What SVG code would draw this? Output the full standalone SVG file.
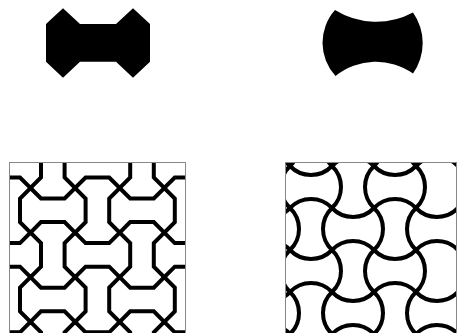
<svg xmlns="http://www.w3.org/2000/svg" xmlns:xlink="http://www.w3.org/1999/xlink" width="457" height="333" viewBox="0 0 457 333">
  <style>
    .tile { fill: #000; stroke: none; }
    .line { fill: none; stroke: #000; stroke-width: 4; stroke-linejoin: miter; }
    .frame { fill: none; stroke: #888; stroke-width: 1; }
  </style>
  <defs>
    <path id="boneH" d="M0,0 L10.5,10.5 L34.1,10.5 L44.6,0 L55.1,10.5 L55.1,34.1 L44.6,44.6 L34.1,34.1 L10.5,34.1 L0,44.6 L-10.5,34.1 L-10.5,10.5 Z"/>
    <path id="curveH" d="M0,0 A29 29 0 0 0 42,0 A29 29 0 0 1 42,42 A29 29 0 0 0 0,42 A29 29 0 0 1 0,0 Z"/>
    <clipPath id="clipL"><rect x="9.5" y="162.5" width="176" height="175"/></clipPath>
    <clipPath id="clipR"><rect x="285.5" y="162.5" width="171" height="175"/></clipPath>
  </defs>
  <rect width="457" height="333" fill="#fff"/>

  <g id="bone-tile">
    <polygon class="tile" points="46,24 63,8.3 80,24 116,24 133,8.3 150,24 150,61.7 133,77.7 116,61.7 80,61.7 63,77.7 46,61.7"/>
  </g>

  <g id="curved-tile">
    <path class="tile" d="M335,10 A78 78 0 0 0 413,12.5 A52.8 52.8 0 0 1 413,73.5 A64.3 64.3 0 0 0 335.5,76 A49.1 49.1 0 0 1 335,10 Z"/>
  </g>

  <g id="bone-tiling" clip-path="url(#clipL)">
    <g class="line">
      <use xlink:href="#boneH" transform="translate(-14.1,143.4)"/>
      <use xlink:href="#boneH" transform="translate(75.1,143.4)"/>
      <use xlink:href="#boneH" transform="translate(164.3,143.4)"/>
      <use xlink:href="#boneH" transform="translate(30.5,188)"/>
      <use xlink:href="#boneH" transform="translate(119.7,188)"/>
      <use xlink:href="#boneH" transform="translate(-14.1,232.6)"/>
      <use xlink:href="#boneH" transform="translate(75.1,232.6)"/>
      <use xlink:href="#boneH" transform="translate(164.3,232.6)"/>
      <use xlink:href="#boneH" transform="translate(30.5,277.2)"/>
      <use xlink:href="#boneH" transform="translate(119.7,277.2)"/>
      <use xlink:href="#boneH" transform="translate(-14.1,321.8)"/>
      <use xlink:href="#boneH" transform="translate(75.1,321.8)"/>
      <use xlink:href="#boneH" transform="translate(164.3,321.8)"/>
    </g>
  </g>
  <rect class="frame" x="9.5" y="162.5" width="176" height="175"/>

  <g id="curved-tiling" clip-path="url(#clipR)">
    <g class="line">
      <use xlink:href="#curveH" transform="translate(248,124)"/>
      <use xlink:href="#curveH" transform="translate(332,124)"/>
      <use xlink:href="#curveH" transform="translate(416,124)"/>
      <use xlink:href="#curveH" transform="translate(290,166)"/>
      <use xlink:href="#curveH" transform="translate(374,166)"/>
      <use xlink:href="#curveH" transform="translate(248,208)"/>
      <use xlink:href="#curveH" transform="translate(332,208)"/>
      <use xlink:href="#curveH" transform="translate(416,208)"/>
      <use xlink:href="#curveH" transform="translate(290,250)"/>
      <use xlink:href="#curveH" transform="translate(374,250)"/>
      <use xlink:href="#curveH" transform="translate(248,292)"/>
      <use xlink:href="#curveH" transform="translate(332,292)"/>
      <use xlink:href="#curveH" transform="translate(416,292)"/>
      <use xlink:href="#curveH" transform="translate(290,334)"/>
      <use xlink:href="#curveH" transform="translate(374,334)"/>
    </g>
  </g>
  <rect class="frame" x="285.5" y="162.5" width="171" height="175"/>
</svg>
